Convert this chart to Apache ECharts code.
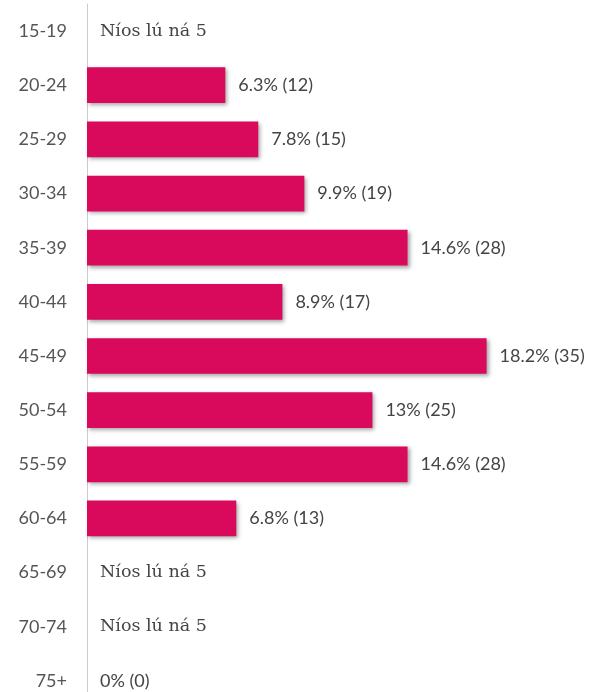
<!DOCTYPE html>
<html><head><meta charset="utf-8">
<script src="https://cdn.jsdelivr.net/npm/echarts@6/dist/echarts.min.js"></script>
<style>html,body{margin:0;padding:0;background:#fff;overflow:hidden}#c{width:598px;height:720px}</style>
</head><body><div id="c"></div>
<script>
const categories = ['15-19','20-24','25-29','30-34','35-39','40-44','45-49','50-54','55-59','60-64','65-69','70-74','75+'];
const percents = [null,6.3,7.8,9.9,14.6,8.9,18.2,13,14.6,6.8,null,null,0];
const counts = [null,12,15,19,28,17,35,25,28,13,null,null,0];
const suppressedLabel = 'Níos lú ná 5';

const chart = echarts.init(document.getElementById('c'));
chart.setOption({
  animation: false,
  grid: {left: 87, top: 4, width: 505, height: 704, containLabel: false},
  xAxis: {type: 'value', min: 0, max: 23, show: false},
  yAxis: {
    type: 'category', data: categories, inverse: true,
    axisLine: {show: true, lineStyle: {color: '#cccccc', width: 1}},
    axisTick: {show: false},
    axisLabel: {margin: 20, color: '#555555', fontFamily: 'Lato', fontSize: 18}
  },
  series: [{
    type: 'bar',
    data: percents.map(v => v === null ? 0 : v),
    barCategoryGap: '34%',
    itemStyle: {color: '#d90a5c', shadowColor: 'rgba(0,0,0,0.35)', shadowBlur: 4, shadowOffsetX: 2, shadowOffsetY: 2},
    label: {
      show: true, position: 'right', distance: 13,
      color: '#444444', fontFamily: 'Lato', fontSize: 18,
      formatter: p => percents[p.dataIndex] === null ? '{s|' + suppressedLabel + '}' : percents[p.dataIndex] + '% (' + counts[p.dataIndex] + ')',
      rich: {s: {fontFamily: 'DejaVu Serif', fontSize: 17.5, color: '#444444'}}
    }
  }]
});
</script></body></html>
